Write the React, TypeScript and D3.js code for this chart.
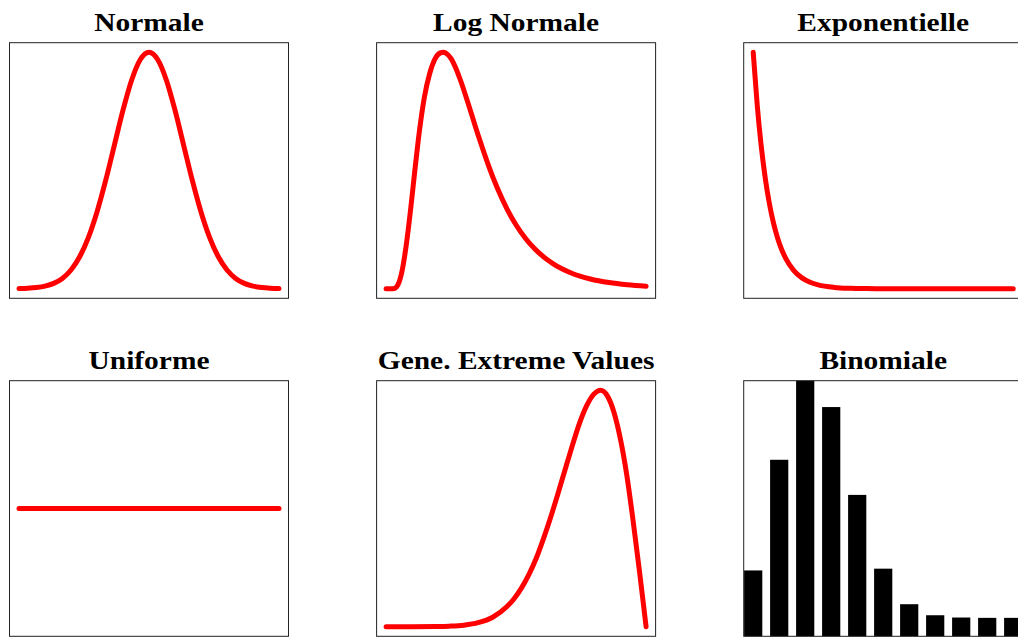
import React from "react";
import * as d3 from "d3";

// ---------- data ----------
const titles = ["Normale", "Log Normale", "Exponentielle", "Uniforme", "Gene. Extreme Values", "Binomiale"];

const normalX = [-3.75, -3.5, -3.25, -3, -2.75, -2.5, -2.25, -2, -1.75, -1.5, -1.25, -1, -0.75, -0.5, -0.25, 0, 0.25, 0.5, 0.75, 1, 1.25, 1.5, 1.75, 2, 2.25, 2.5, 2.75, 3, 3.25, 3.5, 3.75];
const normalY = [0.0009, 0.0022, 0.0051, 0.0111, 0.0228, 0.0439, 0.0796, 0.1353, 0.2163, 0.3247, 0.4578, 0.6065, 0.7548, 0.8825, 0.9692, 1, 0.9692, 0.8825, 0.7548, 0.6065, 0.4578, 0.3247, 0.2163, 0.1353, 0.0796, 0.0439, 0.0228, 0.0111, 0.0051, 0.0022, 0.0009];

const logNormalX = [0, 0.0625, 0.11, 0.16, 0.215, 0.273, 0.333, 0.392, 0.452, 0.515, 0.585, 0.655, 0.73, 0.77, 0.805, 0.875, 0.9375, 1.0, 1.125, 1.25, 1.375, 1.5, 1.625, 1.75, 1.875, 2.0, 2.25, 2.5, 2.75, 3.0, 3.25, 3.5];
const logNormalY = [0, 0, 0.0012, 0.0173, 0.0756, 0.1886, 0.3436, 0.5142, 0.6752, 0.8091, 0.9078, 0.9694, 0.9972, 1.0, 0.9964, 0.9732, 0.9335, 0.8825, 0.763, 0.6391, 0.524, 0.4235, 0.3389, 0.2696, 0.2135, 0.1688, 0.1053, 0.0659, 0.0415, 0.0263, 0.0169, 0.0109];

const expX = [0, 0.125, 0.25, 0.375, 0.5, 0.625, 0.75, 0.875, 1, 1.25, 1.5, 1.75, 2, 2.5, 3, 3.5, 4, 5, 6, 7, 8];
const expY = [1, 0.774, 0.599, 0.4636, 0.3588, 0.2777, 0.2149, 0.1663, 0.1287, 0.0771, 0.0462, 0.0277, 0.0166, 0.0059, 0.0021, 0.0008, 0.0003, 0, 0, 0, 0];

const uniformX = [0, 1];
const uniformY = [1, 1];

const gevX = [0, 1, 1.87, 2.43, 2.99, 3.54, 4.1, 4.65, 4.93, 5.21, 5.49, 5.77, 6.04, 6.32, 6.6, 6.88, 7.16, 7.43, 7.71, 7.99, 8.25, 8.51, 8.76, 9.01, 9.26, 9.5, 9.75, 10];
const gevY = [0, 0, 0.0009, 0.0026, 0.007, 0.0176, 0.0406, 0.0854, 0.1198, 0.1645, 0.2203, 0.2884, 0.3686, 0.4599, 0.5593, 0.6629, 0.7648, 0.8578, 0.9338, 0.9835, 1.0, 0.9761, 0.9079, 0.7948, 0.6393, 0.4481, 0.2308, 0];

const binomK = [0, 1, 2, 3, 4, 5, 6, 7, 8, 9, 10];
const binomP = [0.0563, 0.1877, 0.2816, 0.2503, 0.146, 0.0584, 0.0162, 0.0031, 0.0004, 0.0, 0.0];

// ---------- layout ----------
const W = 1018;
const H = 637;
const PW = 279;
const PH = 255.6;
const colLeft = [9.5, 376.6, 743.7];
const rowTop = [42.7, 380.7];
const PAD = 9.5;

type LinePanel = {
  kind: "line";
  xs: number[];
  ys: number[];
  xDomain: [number, number];
  yDomain: [number, number];
};
type BarPanel = { kind: "bar"; xs: number[]; ys: number[] };

const panelDefs: (LinePanel | BarPanel)[] = [
  { kind: "line", xs: normalX, ys: normalY, xDomain: [-3.75, 3.75], yDomain: [0, 1] },
  { kind: "line", xs: logNormalX, ys: logNormalY, xDomain: [0, 3.5], yDomain: [0, 1] },
  { kind: "line", xs: expX, ys: expY, xDomain: [0, 8], yDomain: [0, 1] },
  { kind: "line", xs: uniformX, ys: uniformY, xDomain: [0, 1], yDomain: [0, 2] },
  { kind: "line", xs: gevX, ys: gevY, xDomain: [0, 10], yDomain: [0, 1] },
  { kind: "bar", xs: binomK, ys: binomP },
];

function Panel({ def, idx }: { def: LinePanel | BarPanel; idx: number }) {
  const col = idx % 3;
  const row = Math.floor(idx / 3);
  const left = colLeft[col];
  const top = rowTop[row];
  const right = left + PW;
  const bottom = top + PH;

  let content: React.ReactNode = null;
  if (def.kind === "line") {
    const x = d3.scaleLinear().domain(def.xDomain).range([left + PAD, right - PAD]);
    const y = d3.scaleLinear().domain(def.yDomain).range([bottom - PAD, top + PAD]);
    const pts = def.xs.map((v, i) => [v, def.ys[i]] as [number, number]);
    const line = d3
      .line<[number, number]>()
      .x((d) => x(d[0]))
      .y((d) => y(d[1]))
      .curve(d3.curveMonotoneX);
    content = (
      <path
        d={line(pts) || ""}
        fill="none"
        stroke="#ff0000"
        strokeWidth={5}
        strokeLinecap="round"
        strokeLinejoin="round"
      />
    );
  } else {
    const x = d3.scaleLinear().domain([0, def.xs.length - 1]).range([left + PAD, right - PAD]);
    const step = x(1) - x(0);
    const bw = step * 0.7;
    const y = d3.scaleLinear().domain([-0.0219, d3.max(def.ys) as number]).range([bottom, top]);
    content = def.xs.map((k, i) => (
      <rect key={k} x={x(k) - bw / 2} y={y(def.ys[i])} width={bw} height={bottom - y(def.ys[i])} fill="#000" />
    ));
  }

  return (
    <g>
      <text
        transform={`translate(${left + PW / 2},${top - 12.2}) scale(1.155,1)`}
        x={0}
        y={0}
        textAnchor="middle"
        fontFamily="'Liberation Serif', 'Times New Roman', serif"
        fontWeight="bold"
        fontSize={25.5}
        fill="#000"
      >
        {titles[idx]}
      </text>
      {content}
      <rect x={left} y={top} width={PW} height={PH} fill="none" stroke="#222" strokeWidth={1} />
    </g>
  );
}

export default function App() {
  return (
    <svg
      width={W}
      height={H}
      viewBox={`0 0 ${W} ${H}`}
      style={{ position: "absolute", left: 0, top: 0, background: "#fff" }}
    >
      <rect x={0} y={0} width={W} height={H} fill="#fff" />
      {panelDefs.map((def, i) => (
        <Panel key={i} def={def} idx={i} />
      ))}
    </svg>
  );
}
